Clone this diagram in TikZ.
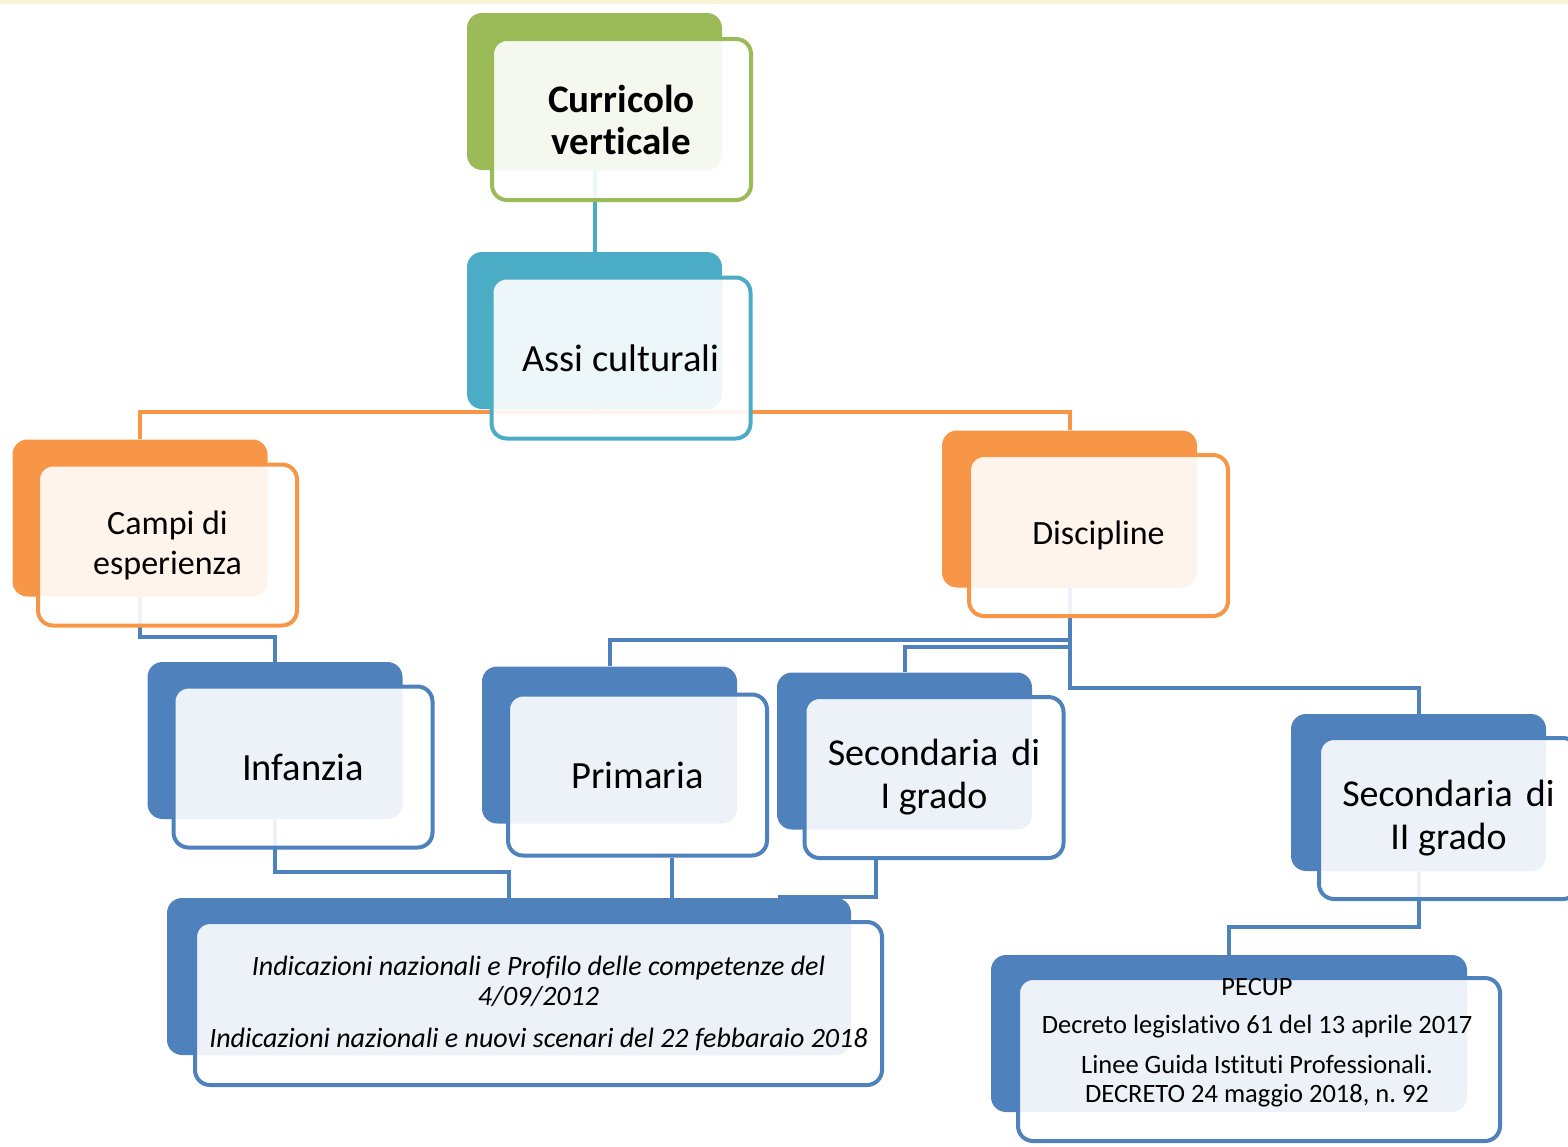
\documentclass[tikz,border=0pt]{standalone}
\usepackage{fontspec}
\setmainfont{Carlito}[Ligatures=NoCommon]
\frenchspacing
\definecolor{sagreen}{HTML}{9BBB59}
\definecolor{sateal}{HTML}{4BACC6}
\definecolor{saorange}{HTML}{F79646}
\definecolor{sablue}{HTML}{4F81BD}
\definecolor{stripe}{HTML}{F7F3D6}
\pgfdeclarelayer{bg}
\pgfsetlayers{bg,main}
\tikzset{
  backbox/.style={fill=#1, rounded corners=15pt, minimum width=255pt, minimum height=157pt, inner sep=0pt},
  frontbox/.style={draw=#1, line width=4pt, fill=white, fill opacity=0.9, text opacity=1,
    rounded corners=15pt, minimum width=259pt, minimum height=161pt, align=center, inner sep=0pt},
  link/.style={draw=#1, line width=4pt},
  txt/.style={align=center, inner sep=0pt}
}
\begin{document}
\begin{tikzpicture}[x=1pt,y=-1pt]
  % page
  \useasboundingbox (0,0) rectangle (1568,1146);
  \fill[stripe] (0,0) rectangle (1568,4);
  % top
  \node[backbox=sagreen] (cvb) at (594.5,91.5) {};
  \node[frontbox=sagreen, font=\fontsize{39}{42}\selectfont\bfseries] (cv) at (621.5,119.5) {Curricolo\\verticale};
  \node[backbox=sateal] (assib) at (594.5,330.5) {};
  \node[frontbox=sateal, font=\fontsize{38.5}{43}\selectfont] (assi) at (621,358) {Assi culturali};
  % second row
  \node[backbox=saorange] (campib) at (140,518) {};
  \node[frontbox=saorange, font=\fontsize{34}{40}\selectfont] (campi) at (167.5,545) {Campi di\\esperienza};
  \node[backbox=saorange] (discb) at (1069.5,509) {};
  \node[frontbox=saorange, font=\fontsize{34}{40}\selectfont] (disc) at (1098.5,535.5) {Discipline};
  % school levels
  \node[backbox=sablue] (infb) at (275,740.5) {};
  \node[frontbox=sablue, font=\fontsize{38.5}{43}\selectfont] (inf) at (303,767) {Infanzia};
  \node[backbox=sablue] (primb) at (609.5,745) {};
  \node[frontbox=sablue, font=\fontsize{38.5}{43}\selectfont] (prim) at (637.5,775) {Primaria};
  \node[backbox=sablue] (secab) at (904.5,751) {};
  \node[frontbox=sablue, font=\fontsize{38}{43}\selectfont] (seca) at (934,777.5) {Secondaria\hspace{0.35em}di\\I grado};
  \node[backbox=sablue] (secbb) at (1418.5,792.5) {};
  \node[frontbox=sablue, font=\fontsize{38}{43}\selectfont] (secb) at (1448.5,818.5) {Secondaria\hspace{0.35em}di\\II grado};
  % documents
  \node[backbox=sablue, minimum width=684pt] (indb) at (509,976.5) {};
  \node[frontbox=sablue, minimum width=687pt, minimum height=163pt, font=\fontsize{28}{30}\selectfont\itshape] (ind) at (538.5,1003.5)
    {Indicazioni nazionali e Profilo delle competenze del\\4/09/2012\\[12pt]Indicazioni nazionali e nuovi scenari del 22 febbaraio 2018};
  \node[backbox=sablue, minimum width=476pt] (pecb) at (1229,1033.5) {};
  \node[frontbox=sablue, minimum width=482pt, minimum height=163pt] (pec) at (1259,1059.5) {};
  \node[txt, font=\fontsize{26.5}{29}\selectfont] (pect) at (1257,1043)
    {PECUP\\[9pt]Decreto legislativo 61 del 13 aprile 2017\\[11pt]Linee Guida Istituti Professionali.\\DECRETO 24 maggio 2018, n. 92};
  % connectors
  \coordinate (j1) at (594.5,412);
  \coordinate (j2) at (275,637);
  \coordinate (j3) at (509,872);
  \coordinate (d1) at (609.5,640);
  \coordinate (d2) at (904.5,647);
  \coordinate (d3) at (1418.5,688);
  \coordinate (d4) at (1229,927);
  \coordinate (pq) at (672,898);
  \coordinate (sq) at (876,897);
  \coordinate (sr) at (778,897);
  \begin{pgfonlayer}{bg}
    \draw[link=sateal] (cvb.south) -- (assib.north);
    \draw[link=saorange] (assib.south) -- (j1) -| (campib.north);
    \draw[link=saorange] (j1) -| (discb.north);
    \draw[link=sablue] (campib.south) |- (j2) -- (infb.north);
    \draw[link=sablue] (infb.south) |- (j3) -- (indb.north);
    \draw[link=sablue] (discb.south) |- (d1) -- (primb.north);
    \draw[link=sablue] (discb.south) |- (d2) -- (secab.north);
    \draw[link=sablue] (discb.south) |- (d3) -- (secbb.north);
    \draw[link=sablue] (secbb.south) |- (d4) -- (pecb.north);
    \draw[link=sablue] (prim.south -| pq) -- (pq);
    \draw[link=sablue] (seca.south -| sq) -- (sq) -- (sr);
  \end{pgfonlayer}
\end{tikzpicture}
\end{document}
